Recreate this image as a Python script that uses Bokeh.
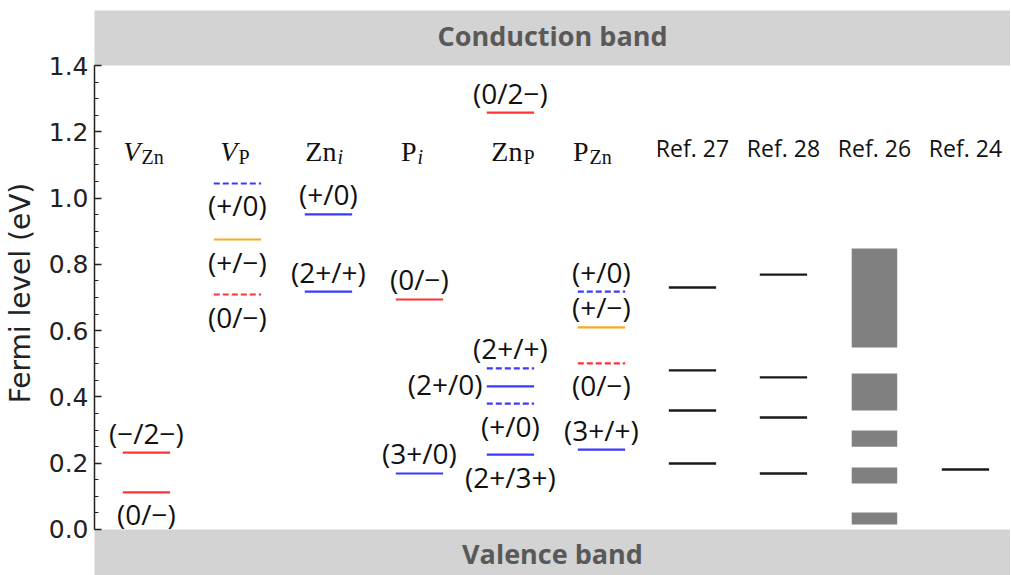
import numpy as np
from bokeh.plotting import figure
from bokeh.models import Range1d, FixedTicker, PrintfTickFormatter
from bokeh.core.properties import value
from bokeh.embed import file_html
from bokeh.resources import INLINE

# ---------------- data ----------------
band_gap = 1.4                     # conduction band minimum (eV)
valence_top = 0.0                  # valence band maximum (eV)

# defect columns (index -> title parts)
defect_main = ["V", "V", "Zn", "P", "Zn", "P"]
defect_sub = ["Zn", "P", "i", "i", "P", "Zn"]
defect_main_italic = [True, True, False, False, False, False]
defect_sub_italic = [False, False, True, True, False, False]

# transition levels of the calculated defects
level_col = [0, 0, 1, 1, 1, 2, 2, 3, 3, 4, 4, 4, 4, 4, 5, 5, 5, 5]
level_val = [0.232, 0.112, 1.044, 0.875, 0.709, 0.951, 0.718, 0.694, 0.169,
             1.258, 0.486, 0.432, 0.380, 0.226, 0.718, 0.610, 0.501, 0.241]
level_kind = ["acc", "acc", "don", "amph", "acc", "don", "don", "acc", "don",
              "acc", "don", "don", "don", "don", "don", "amph", "acc", "don"]
level_meta = [False, False, True, False, True, False, False, False, False,
              False, True, False, True, False, True, False, True, False]
level_label = ["(−/2−)", "(0/−)", "(+/0)", "(+/−)", "(0/−)", "(+/0)", "(2+/+)",
               "(0/−)", "(3+/0)", "(0/2−)", "(2+/+)", "(2+/0)", "(+/0)", "(2+/3+)",
               "(+/0)", "(+/−)", "(0/−)", "(3+/+)"]
level_side = ["above", "below", "below", "below", "below", "above", "above",
              "above", "above", "above", "above", "left", "below", "below",
              "above", "above", "below", "above"]

# literature values
ref_names = ["Ref. 27", "Ref. 28", "Ref. 26", "Ref. 24"]
ref27 = [0.730, 0.480, 0.359, 0.199]
ref28 = [0.769, 0.459, 0.338, 0.169]
ref26_low = [0.549, 0.359, 0.250, 0.139, 0.015]
ref26_high = [0.848, 0.471, 0.299, 0.187, 0.051]
ref24 = [0.181]

y_ticks = [0.0, 0.2, 0.4, 0.6, 0.8, 1.0, 1.2, 1.4]

# ---------------- styles ----------------
kind_color = {"acc": "#ff3333", "don": "#3a3aff", "amph": "#ffa726"}
HALF = 0.26
LABEL_FONT = value("Open Sans")
SERIF = value("Liberation Serif")
TITLE_Y = 1.128
title_nudge = [-6, 0, 8, -3, 12, -13]   # px, junction of main/sub text
X0, X1 = -0.571, 9.495
Y0, Y1 = -0.1388, 1.566

n_def = len(defect_main)
ref_cols = [n_def + i for i in range(len(ref_names))]

p = figure(width=1010, height=575, output_backend="svg", toolbar_location=None,
           x_range=Range1d(X0, X1), y_range=Range1d(Y0, Y1),
           x_axis_location=None, min_border_left=94, min_border_top=10,
           min_border_bottom=0, min_border_right=0)
p.outline_line_color = None
p.grid.visible = False
p.background_fill_color = "white"
p.border_fill_color = "white"

# bands
p.quad(left=-5, right=15, bottom=band_gap, top=5, fill_color="#d3d3d3", line_color=None)
p.quad(left=-5, right=15, bottom=-5, top=valence_top, fill_color="#d3d3d3", line_color=None)
xmid = (X0 + X1) / 2
p.text(x=[xmid], y=[(band_gap + Y1) / 2], text=["Conduction band"], text_font=LABEL_FONT,
       text_font_style="bold", text_color="#595959", text_font_size="27px",
       text_align="center", text_baseline="middle", y_offset=-3)
p.text(x=[xmid], y=[(valence_top + Y0) / 2], text=["Valence band"], text_font=LABEL_FONT,
       text_font_style="bold", text_color="#595959", text_font_size="27px",
       text_align="center", text_baseline="middle", y_offset=1)

# y axis
ax = p.yaxis[0]
ax.ticker = FixedTicker(ticks=y_ticks, minor_ticks=list(np.round(np.arange(0, 1.4001, 0.05), 3)))
ax.formatter = PrintfTickFormatter(format="%.1f")
ax.bounds = (valence_top, band_gap)
ax.major_tick_in = 7
ax.major_tick_out = 0
ax.minor_tick_in = 4
ax.minor_tick_out = 0
ax.axis_line_width = 1.5
ax.major_tick_line_width = 1.3
ax.minor_tick_line_width = 1.0
ax.axis_line_color = "#222222"
ax.major_tick_line_color = "#222222"
ax.minor_tick_line_color = "#222222"
ax.major_label_text_font = "DejaVu Sans"
ax.major_label_text_font_size = "25px"
ax.major_label_text_color = "#222222"
ax.major_label_standoff = 6
ax.axis_label = "Fermi level (eV)"
ax.axis_label_text_font = "DejaVu Sans"
ax.axis_label_text_font_size = "28px"
ax.axis_label_text_font_style = "normal"
ax.axis_label_text_color = "#222222"
ax.axis_label_standoff = 9

# defect levels
for meta, dash in [(False, "solid"), (True, "6 3")]:
    idx = [i for i in range(len(level_val)) if level_meta[i] == meta]
    p.segment(x0=[level_col[i] - HALF for i in idx], x1=[level_col[i] + HALF for i in idx],
              y0=[level_val[i] for i in idx], y1=[level_val[i] for i in idx],
              line_color=[kind_color[level_kind[i]] for i in idx], line_width=2.2,
              line_dash=dash)

side_style = {"above": dict(text_align="center", x_offset=0, y_offset=-20),
              "below": dict(text_align="center", x_offset=0, y_offset=22),
              "left": dict(text_align="right", x_offset=-28, y_offset=-2)}
for side, st in side_style.items():
    idx = [i for i in range(len(level_val)) if level_side[i] == side]
    p.text(x=[level_col[i] for i in idx], y=[level_val[i] for i in idx],
           text=[level_label[i] for i in idx], text_font=LABEL_FONT,
           text_font_size="28px", text_color="#111111", text_baseline="alphabetic",
           **st)

# defect titles
for i in range(n_def):
    p.text(x=[i], y=[TITLE_Y], text=[defect_main[i]], text_font=SERIF,
           text_font_style="italic" if defect_main_italic[i] else "normal",
           text_font_size="28px", text_color="#111111", text_align="right",
           text_baseline="alphabetic", x_offset=title_nudge[i], y_offset=-4)
    p.text(x=[i], y=[TITLE_Y], text=[defect_sub[i]], text_font=SERIF,
           text_font_style="italic" if defect_sub_italic[i] else "normal",
           text_font_size="20px", text_color="#111111", text_align="left",
           text_baseline="alphabetic", x_offset=title_nudge[i] + 1, y_offset=1)

# reference titles
p.text(x=ref_cols, y=[TITLE_Y] * len(ref_cols), text=ref_names, text_font=LABEL_FONT,
       text_font_size="23px", text_color="#111111", text_align="center",
       text_baseline="alphabetic", y_offset=-8)

# reference lines
line_refs = [(ref_cols[0], ref27), (ref_cols[1], ref28), (ref_cols[3], ref24)]
xs0, xs1, ys = [], [], []
for c, vals in line_refs:
    for v in vals:
        xs0.append(c - HALF)
        xs1.append(c + HALF)
        ys.append(v)
p.segment(x0=xs0, x1=xs1, y0=ys, y1=ys, line_color="#1a1a1a", line_width=2.4)

# Ref. 26 ranges
c26 = ref_cols[2]
p.quad(left=[c26 - 0.25] * len(ref26_low), right=[c26 + 0.25] * len(ref26_low),
       bottom=ref26_low, top=ref26_high, fill_color="#808080", line_color=None)

open("out.html", "w").write(file_html(p, INLINE))
